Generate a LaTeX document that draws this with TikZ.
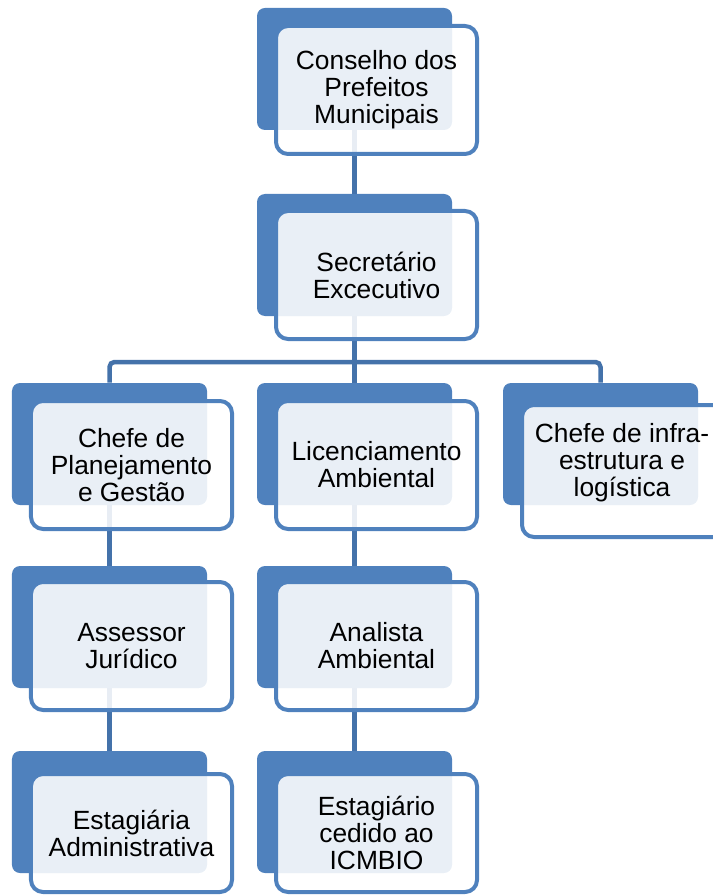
\documentclass[tikz,border=0pt]{standalone}
\usepackage{fontspec}
\setmainfont{Liberation Sans}
\usetikzlibrary{backgrounds}
\definecolor{boxblue}{RGB}{79,129,189}
\definecolor{linkblue}{RGB}{68,114,170}

\begin{document}
\begin{tikzpicture}[line join=round,x=0.2mm,y=-0.2mm]
\tikzset{boxtext/.style={align=center,font=\fontsize{15}{15.4}\selectfont},
backbox/.style={fill=boxblue,rounded corners=1.6mm,inner sep=0pt,minimum width=39mm,minimum height=24.4mm},
frontbox/.style={boxtext,draw=boxblue,line width=0.8mm,fill=white,fill opacity=0.88,text opacity=1,rounded corners=2.4mm,inner sep=0pt,minimum width=40.2mm,minimum height=25.6mm},
link/.style={draw=linkblue,line width=0.9mm}}
\useasboundingbox (0,0) rectangle (713,895);
\clip (0,0) rectangle (713,895);
% back boxes
\node[backbox] (b1) at (354.5,69) {};
\node[backbox] (b2) at (354.5,255) {};
\node[backbox] (b3) at (109.5,444) {};
\node[backbox] (b4) at (354.5,444) {};
\node[backbox] (b5) at (600.5,444) {};
\node[backbox] (b6) at (109.5,627) {};
\node[backbox] (b7) at (354.5,627) {};
\node[backbox] (b8) at (109.5,812) {};
\node[backbox] (b9) at (354.5,812) {};
\coordinate (hbar) at (354.5,362);
% links
\begin{scope}[on background layer]
\draw[link] (b1.south)--(b2.north);
\draw[link] (b2.south)--(b4.north);
\draw[link,rounded corners=1mm] (b3.north) |- (hbar) -| (b5.north);
\draw[link] (b3.south)--(b6.north);
\draw[link] (b6.south)--(b8.north);
\draw[link] (b4.south)--(b7.north);
\draw[link] (b7.south)--(b9.north);
\end{scope}
% front boxes
\node[frontbox] (f1) at (376.5,90) {Conselho dos\\Prefeitos\\Municipais};
\node[frontbox] (f2) at (376.5,275) {Secretário\\Excecutivo};
\node[frontbox] (f3) at (131.5,465) {Chefe de\\Planejamento\\e Gestão};
\node[frontbox] (f4) at (376.5,465) {Licenciamento\\Ambiental};
\node[frontbox,minimum width=44mm,minimum height=26.4mm] (f5) at (632,471) {};
\node[boxtext] (t5) at (622,463) {Chefe de infra-\\estrutura e\\logística};
\node[frontbox] (f6) at (131.5,646) {Assessor\\Jurídico};
\node[frontbox] (f7) at (376.5,646) {Analista\\Ambiental};
\node[frontbox,minimum height=23.6mm] (f8) at (131.5,833) {Estagiária\\Administrativa};
\node[frontbox,minimum height=23.6mm] (f9) at (376.5,833) {Estagiário\\cedido ao\\ICMBIO};
\end{tikzpicture}
\end{document}
